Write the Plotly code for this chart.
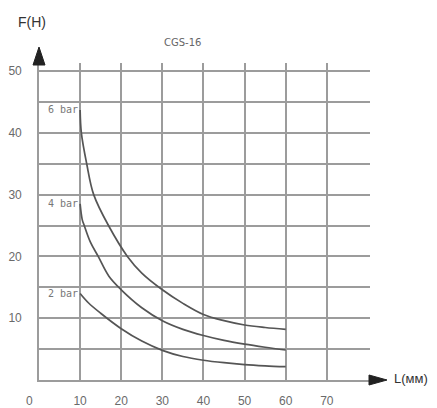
import plotly.graph_objects as go

# Series (L in mm, F in N)
x6 = [10, 10.3, 11.6, 13.3, 16.9, 21.5, 25, 30, 35, 40, 45, 50, 55, 60]
y6 = [43.7, 40, 35, 30, 25, 20, 17.3, 14.6, 12.4, 10.6, 9.6, 8.9, 8.5, 8.2]
x4 = [10, 10.5, 11, 12.5, 14.4, 17, 20, 25, 30, 35, 40, 45, 50, 55, 60]
y4 = [28.5, 26, 25, 22.3, 20, 16.8, 14.6, 11.7, 9.6, 8.2, 7.2, 6.4, 5.8, 5.3, 4.85]
x2 = [10, 12, 15, 20, 25, 30, 35, 40, 45, 50, 55, 60]
y2 = [14.0, 12.5, 10.8, 8.3, 6.3, 4.8, 3.8, 3.2, 2.8, 2.5, 2.3, 2.15]
series_names = ["6 bar", "4 bar", "2 bar"]

x_ticks = [10, 20, 30, 40, 50, 60, 70]
y_ticks = [10, 20, 30, 40, 50]

title_text = "CGS-16"
y_label = "F(Н)"
x_label = "L(мм)"

GRID = "#9c9c9c"
CURVE = "#555555"
TXT = "#555555"

fig = go.Figure()
for xs, ys, name in zip([x6, x4, x2], [y6, y4, y2], series_names):
    fig.add_trace(go.Scatter(x=xs, y=ys, mode="lines", line=dict(color=CURVE, width=1.7, shape="spline"),
                             name=name, showlegend=False, hoverinfo="skip"))
    fig.add_annotation(x=xs[0], y=ys[0], text=name, showarrow=False, xanchor="right", yanchor="middle",
                       font=dict(family="DejaVu Sans Mono", size=10, color="#777777"))

fig.update_layout(
    width=437, height=408,
    margin=dict(l=39, r=67, t=63, b=28),
    paper_bgcolor="white", plot_bgcolor="white",
    font=dict(family="Liberation Sans", color=TXT),
)
fig.update_xaxes(range=[0, 80.5], tickvals=x_ticks, ticktext=[str(v) for v in x_ticks],
                 showgrid=True, gridcolor=GRID, gridwidth=1.6, zeroline=False, automargin=False,
                 showline=True, linecolor=GRID, linewidth=1.6,
                 tickfont=dict(size=12, color="#6a6a6a"), ticklabelstandoff=9)
fig.update_yaxes(range=[0, 51.3], tickvals=y_ticks, ticktext=[str(v) for v in y_ticks],
                 showgrid=True, gridcolor=GRID, gridwidth=1.6, zeroline=False, automargin=False,
                 minor=dict(dtick=5, tick0=0, showgrid=True, gridcolor=GRID, gridwidth=1.6),
                 showline=True, linecolor=GRID, linewidth=1.6,
                 tickfont=dict(size=12, color="#6a6a6a"), ticklabelstandoff=13)

# axis arrows (paper-anchored, pixel-sized)
fig.add_shape(type="path", xref="paper", yref="paper", xsizemode="pixel", ysizemode="pixel",
              xanchor=0, yanchor=1, path="M -6,-2 L 0,16 L 6,-2 Z",
              fillcolor="#222222", line=dict(color="#222222", width=1))
fig.add_shape(type="path", xref="paper", yref="paper", xsizemode="pixel", ysizemode="pixel",
              xanchor=1, yanchor=0, path="M -1,-5 L 17,0 L -1,5 Z",
              fillcolor="#222222", line=dict(color="#222222", width=1))

# texts
fig.add_annotation(x=0, y=0, xref="x", yref="y", text="0", showarrow=False,
                   xshift=-10, yshift=-21, font=dict(size=12, color="#6a6a6a"))
fig.add_annotation(xref="paper", yref="paper", x=1, y=0, xanchor="left", yanchor="middle",
                   xshift=22, yshift=2, text=x_label, showarrow=False,
                   font=dict(size=13, color="#333333"))
fig.add_annotation(xref="paper", yref="paper", x=0, y=1, xanchor="center", yanchor="middle",
                   xshift=-7, yshift=41, text=y_label, showarrow=False,
                   font=dict(size=14, color="#333333"))
fig.add_annotation(xref="x", yref="paper", x=35, y=1, xanchor="center", yanchor="middle",
                   yshift=21, text=title_text, showarrow=False,
                   font=dict(family="DejaVu Sans", size=10, color="#666666"))

fig.write_html("out.html", config={"displayModeBar": False},
               post_script="document.body.style.margin='0';document.body.style.overflow='hidden';")
